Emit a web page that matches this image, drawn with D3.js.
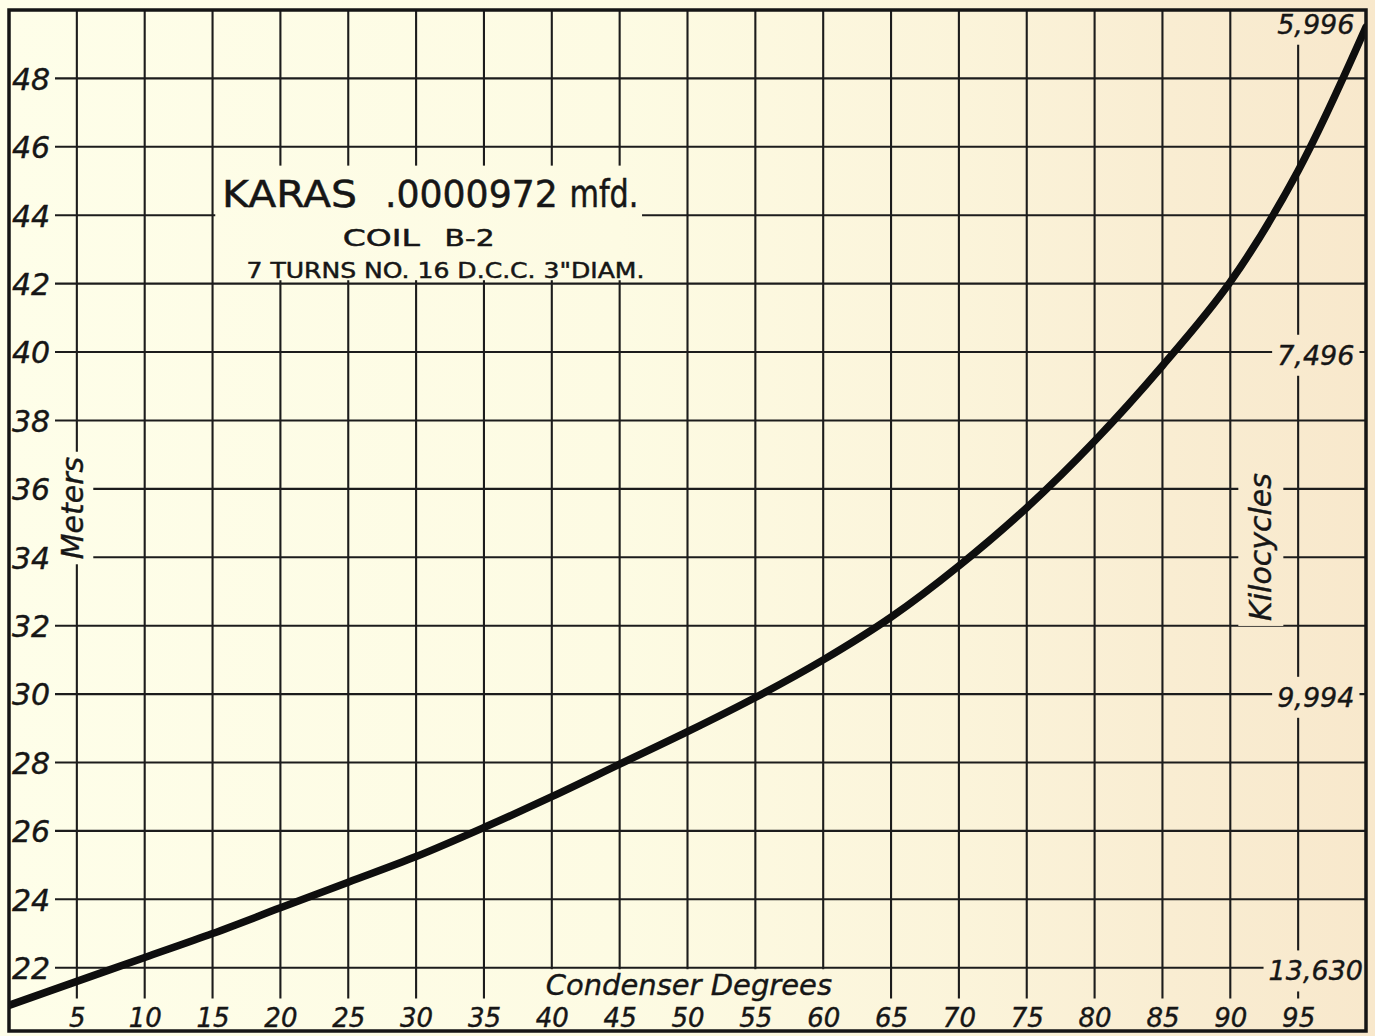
<!DOCTYPE html>
<html>
<head>
<meta charset="utf-8">
<script src="https://cdn.jsdelivr.net/npm/d3@7"></script>
<style>
  html, body { margin: 0; padding: 0; background: #fdfce6; }
  svg { display: block; }
  .num { font-family: "DejaVu Sans", sans-serif; font-style: italic; fill: #161616; stroke: #161616; stroke-width: 0.4; }
  .title { font-family: "DejaVu Sans", sans-serif; fill: #161616; stroke: #161616; stroke-width: 0.5; }
</style>
</head>
<body>
<div id="chart"></div>
<script>
// condenser dial setting vs wave length, every 5 degrees
const degrees = [0, 5, 10, 15, 20, 25, 30, 35, 40, 45, 50, 55, 60, 65, 70, 75, 80, 85, 90, 95, 100]
const meters = [20.9, 21.6, 22.3, 23.0, 23.75, 24.5, 25.25, 26.1, 27.0, 27.95, 28.9, 29.9, 31.0, 32.25, 33.75, 35.45, 37.4, 39.6, 42.05, 45.3, 49.5]

const meterTicks = [22, 24, 26, 28, 30, 32, 34, 36, 38, 40, 42, 44, 46, 48]
const degreeTicks = [5, 10, 15, 20, 25, 30, 35, 40, 45, 50, 55, 60, 65, 70, 75, 80, 85, 90, 95]

// kilocycle scale on the right, at these wave lengths
const kcMeters = [50, 40, 30, 22]
const kcLabels = ["5,996", "7,496", "9,994", "13,630"]

const titleMain = ["KARAS", ".0000972", "mfd."]
const titleCoil = ["COIL", "B-2"]
const titleNote = '7 TURNS NO. 16 D.C.C. 3"DIAM.'

const W = 1375, H = 1036
const ink = "#151515"

const x = d3.scaleLinear().domain([0, 100]).range([9, 1366])
const y = d3.scaleLinear().domain([20.15, 50]).range([1031, 10])

const svg = d3.select("#chart").append("svg")
    .attr("width", W)
    .attr("height", H)

const defs = svg.append("defs")
const paper = defs.append("linearGradient")
    .attr("id", "paper")
    .attr("gradientUnits", "userSpaceOnUse")
    .attr("x1", 0).attr("y1", 0).attr("x2", W).attr("y2", 0)
paper.selectAll("stop")
    .data([[0, "#fefee9"], [0.45, "#fdfbe3"], [0.7, "#fbf4da"], [0.85, "#f9edd2"], [1, "#f8e8cc"]])
    .join("stop")
    .attr("offset", d => d[0])
    .attr("stop-color", d => d[1])

defs.append("clipPath").attr("id", "frame")
    .append("rect")
    .attr("x", x(0)).attr("y", y(50))
    .attr("width", x(100) - x(0)).attr("height", y(20.15) - y(50))

svg.append("rect")
    .attr("width", W).attr("height", H)
    .attr("fill", "url(#paper)")

// grid
const grid = svg.append("g")
    .attr("stroke", "#1c1c1c")
    .attr("stroke-width", 2.1)

grid.selectAll(".h")
    .data(meterTicks)
    .join("line")
    .attr("class", "h")
    .attr("x1", 55).attr("x2", x(100))
    .attr("y1", d => y(d)).attr("y2", d => y(d))

grid.selectAll(".v")
    .data(degreeTicks)
    .join("line")
    .attr("class", "v")
    .attr("x1", d => x(d)).attr("x2", d => x(d))
    .attr("y1", y(50)).attr("y2", y(21.1))

const masks = svg.append("g")
const labels = svg.append("g")

// left: meters
const leftAxis = labels.append("g")
    .attr("transform", "translate(12,0)")
    .call(d3.axisLeft(y).tickValues(meterTicks).tickSize(0).tickPadding(0))
leftAxis.select(".domain").remove()
leftAxis.selectAll("text")
    .attr("class", "num")
    .attr("x", 0).attr("dy", "0.36em")
    .attr("text-anchor", "start")
    .attr("font-size", 30)
    .attr("font-family", null)

// bottom: condenser degrees
const bottomAxis = labels.append("g")
    .attr("transform", "translate(0,1009)")
    .call(d3.axisBottom(x).tickValues(degreeTicks).tickSize(0).tickPadding(0))
bottomAxis.select(".domain").remove()
bottomAxis.selectAll("text")
    .attr("class", "num")
    .attr("font-size", 26)
    .attr("font-family", null)

labels.append("text")
    .attr("class", "num")
    .attr("x", x(50.1)).attr("y", 995)
    .attr("text-anchor", "middle")
    .attr("font-size", 29)
    .text("Condenser Degrees")

labels.append("text")
    .attr("class", "num mask meters")
    .attr("transform", `translate(${x(4.7)},${y(35.44)}) rotate(-90)`)
    .attr("text-anchor", "middle")
    .attr("dy", "0.35em")
    .attr("font-size", 30)
    .text("Meters")

labels.append("text")
    .attr("class", "num mask")
    .attr("transform", `translate(${x(92.25)},${y(34.3)}) rotate(-90)`)
    .attr("text-anchor", "middle")
    .attr("dy", "0.35em")
    .attr("font-size", 30)
    .text("Kilocycles")

// right: kilocycles
labels.selectAll(".kc")
    .data(kcMeters)
    .join("text")
    .attr("class", "num kc mask")
    .attr("x", x(96.3))
    .attr("y", d => Math.max(y(d) + 3, y(50) + 14))
    .attr("dy", "0.36em")
    .attr("text-anchor", "middle")
    .attr("font-size", 27)
    .text((d, i) => kcLabels[i])

// title block
const title = labels.append("g").attr("class", "title")
title.selectAll(".t1")
    .data(titleMain)
    .join("text")
    .attr("class", "t1")
    .attr("x", (d, i) => x([15.7, 27.7, 41.3][i]))
    .attr("y", y(44.24))
    .attr("font-size", 37)
    .attr("textLength", (d, i) => [135, 173, 69][i])
    .attr("lengthAdjust", "spacingAndGlyphs")
    .text(d => d)
title.selectAll(".t2")
    .data(titleCoil)
    .join("text")
    .attr("class", "t2")
    .attr("x", (d, i) => x([24.6, 32.1][i]))
    .attr("y", y(43.1))
    .attr("font-size", 23)
    .attr("textLength", (d, i) => [77, 50][i])
    .attr("lengthAdjust", "spacingAndGlyphs")
    .text(d => d)
title.append("text")
    .attr("x", x(17.5))
    .attr("y", y(42.17))
    .attr("font-size", 22)
    .attr("textLength", 398)
    .attr("lengthAdjust", "spacingAndGlyphs")
    .text(titleNote)

// paper-coloured patches behind the lettering, so the grid breaks around it
function patch(node, l, r, t, b) {
    const bb = node.getBoundingClientRect()
    masks.append("rect")
        .attr("x", bb.left - l).attr("y", bb.top - t)
        .attr("width", bb.width + l + r).attr("height", bb.height + t + b)
        .attr("fill", "url(#paper)")
}
labels.selectAll(".mask").each(function () {
    if (d3.select(this).classed("meters")) patch(this, 20, 3, 5, 5)
    else patch(this, 5, 5, 5, 5)
})
masks.append("rect")
    .attr("x", x(15.2)).attr("y", y(45.45))
    .attr("width", x(46.65) - x(15.2)).attr("height", y(42.1) - y(45.45))
    .attr("fill", "url(#paper)")
masks.append("rect")
    .attr("x", x(38.7)).attr("y", y(22) + 1.5)
    .attr("width", x(61.5) - x(38.7)).attr("height", 32)
    .attr("fill", "url(#paper)")

// the curve
svg.append("path")
    .datum(degrees.map((d, i) => [d, meters[i]]))
    .attr("clip-path", "url(#frame)")
    .attr("fill", "none")
    .attr("stroke", "#0e0e0e")
    .attr("stroke-width", 7.5)
    .attr("stroke-linecap", "round")
    .attr("d", d3.line()
        .curve(d3.curveCatmullRom.alpha(0.5))
        .x(d => x(d[0]))
        .y(d => y(d[1])))

// frame
svg.append("rect")
    .attr("x", x(0)).attr("y", y(50))
    .attr("width", x(100) - x(0)).attr("height", y(20.15) - y(50))
    .attr("fill", "none")
    .attr("stroke", ink)
    .attr("stroke-width", 3.5)
</script>
</body>
</html>
